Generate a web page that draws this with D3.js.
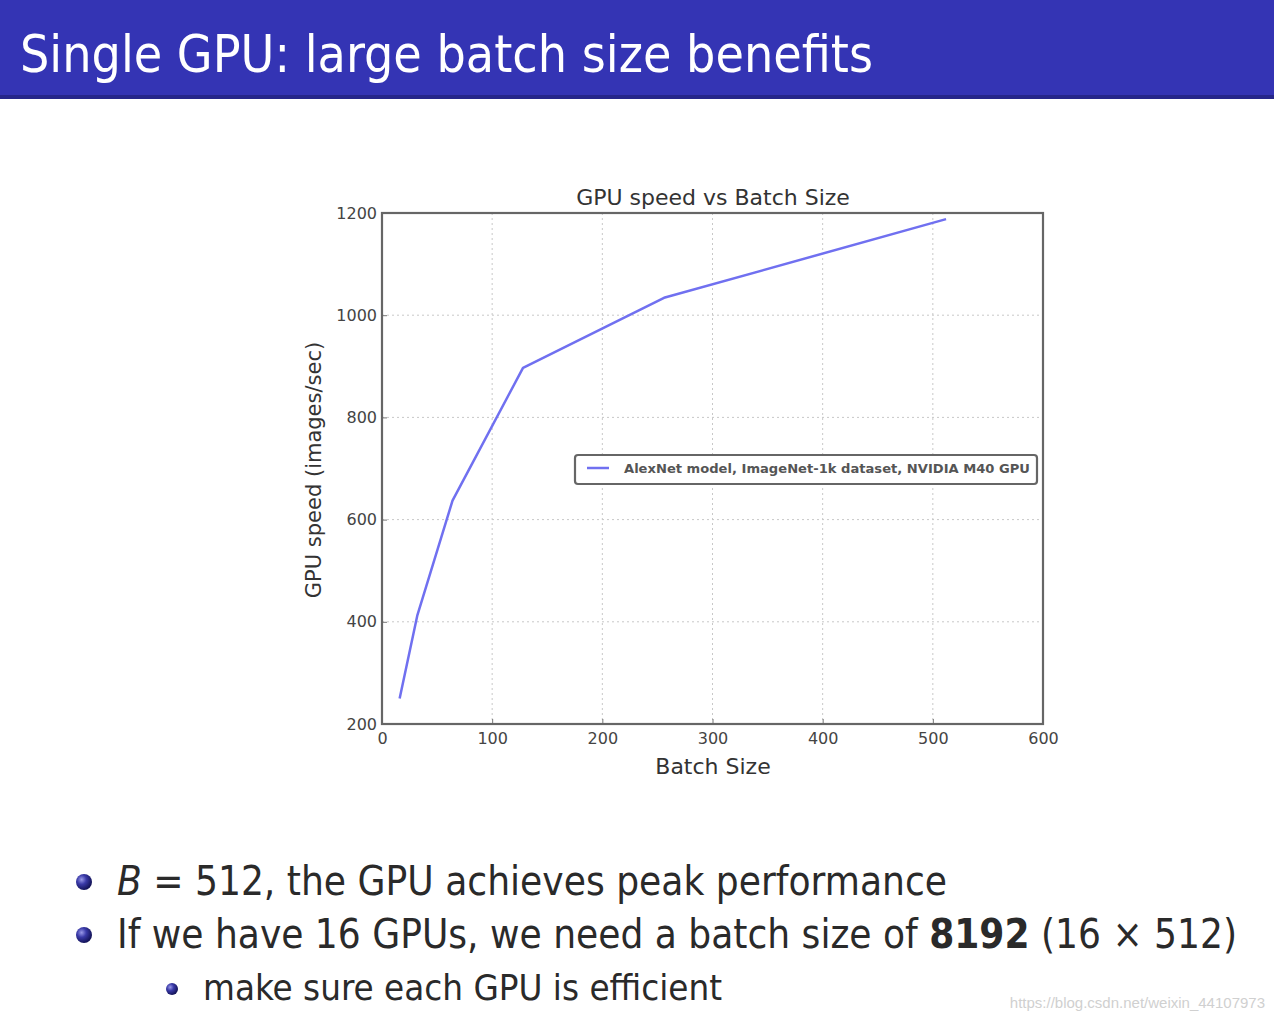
<!DOCTYPE html>
<html><head><meta charset="utf-8">
<script src="https://cdn.jsdelivr.net/npm/d3@7"></script>
<style>
html,body{margin:0;padding:0;background:#fff;}
svg{display:block;}
</style></head>
<body>
<svg id="c" width="1274" height="1021"></svg>
<script>
const batchSizes = [16, 32, 64, 128, 256, 512];
const speeds = [250, 412, 637, 897, 1034, 1188];
const xTicks = [0, 100, 200, 300, 400, 500, 600];
const yTicks = [200, 400, 600, 800, 1000, 1200];
const seriesName = "AlexNet model, ImageNet-1k dataset, NVIDIA M40 GPU";
const slideTitle = "Single GPU: large batch size benefits";
const chartTitle = "GPU speed vs Batch Size";

const svg = d3.select("#c");
const defs = svg.append("defs");
const g1 = defs.append("radialGradient").attr("id","ball").attr("cx","35%").attr("cy","35%").attr("r","65%");
g1.append("stop").attr("offset","0%").attr("stop-color","#9a9ae8");
g1.append("stop").attr("offset","45%").attr("stop-color","#3a3aa8");
g1.append("stop").attr("offset","100%").attr("stop-color","#14145a");

// header bar
svg.append("rect").attr("x",0).attr("y",0).attr("width",1274).attr("height",97).attr("fill","#3434b4");
svg.append("rect").attr("x",0).attr("y",95).attr("width",1274).attr("height",4).attr("fill","#26268a");
svg.append("text").attr("x",20).attr("y",72).attr("fill","#fff")
  .style("font-family","'DejaVu Sans Condensed','DejaVu Sans',sans-serif").style("font-size","52px")
  .attr("textLength",853).attr("lengthAdjust","spacingAndGlyphs")
  .text(slideTitle);

// chart
const L=382, R=1043, T=213, B=724;
const x = d3.scaleLinear().domain([0,600]).range([L,R]);
const y = d3.scaleLinear().domain([200,1200]).range([B,T]);
const font = "'DejaVu Sans',sans-serif";

const grid = svg.append("g");
grid.selectAll(".vx").data(xTicks.slice(1,-1)).join("line")
  .attr("x1",d=>x(d)).attr("x2",d=>x(d)).attr("y1",T).attr("y2",B)
  .attr("stroke","#c8c8c8").attr("stroke-width",1).attr("stroke-dasharray","2,3");
grid.selectAll(".hy").data(yTicks.slice(1,-1)).join("line")
  .attr("y1",d=>y(d)).attr("y2",d=>y(d)).attr("x1",L).attr("x2",R)
  .attr("stroke","#c8c8c8").attr("stroke-width",1).attr("stroke-dasharray","2,3");

const xAxis = svg.append("g").attr("transform",`translate(0,${B})`)
  .call(d3.axisBottom(x).tickValues(xTicks).tickFormat(d3.format("d")).tickSize(-5).tickPadding(10));
const yAxis = svg.append("g").attr("transform",`translate(${L},0)`)
  .call(d3.axisLeft(y).tickValues(yTicks).tickFormat(d3.format("d")).tickSize(-5).tickPadding(5));
[xAxis,yAxis].forEach(a=>{
  a.select(".domain").remove();
  a.selectAll(".tick line").attr("stroke","#777");
  a.selectAll("text").style("font-family",font).style("font-size","16px").attr("fill","#444");
});
yAxis.selectAll("text").attr("dy","0.32em");
xAxis.selectAll("text").attr("dy","0.6em");

svg.append("rect").attr("x",L).attr("y",T).attr("width",R-L).attr("height",B-T)
  .attr("fill","none").attr("stroke","#666").attr("stroke-width",2.2);

const line = d3.line().x((d,i)=>x(batchSizes[i])).y(d=>y(d));
svg.append("path").datum(speeds).attr("d",line).attr("fill","none")
  .attr("stroke","#7070f0").attr("stroke-width",2.5).attr("stroke-linejoin","round");

svg.append("text").attr("x",713).attr("y",205).attr("text-anchor","middle")
  .style("font-family",font).style("font-size","22px").attr("fill","#333").text(chartTitle);
svg.append("text").attr("x",713).attr("y",774).attr("text-anchor","middle")
  .style("font-family",font).style("font-size","22px").attr("fill","#333").text("Batch Size");
svg.append("text").attr("transform","translate(321,470) rotate(-90)").attr("text-anchor","middle")
  .style("font-family",font).style("font-size","21px").attr("fill","#333").text("GPU speed (images/sec)");

// legend
const lg = svg.append("g");
lg.append("rect").attr("x",575).attr("y",455).attr("width",462).attr("height",29).attr("rx",3)
  .attr("fill","#fff").attr("stroke","#666").attr("stroke-width",2.2);
lg.append("line").attr("x1",587).attr("x2",609).attr("y1",468).attr("y2",468)
  .attr("stroke","#7070f0").attr("stroke-width",2.5);
lg.append("text").attr("x",624).attr("y",473).style("font-family",font).style("font-size","13px")
  .style("font-weight","bold").attr("fill","#555").attr("textLength",406).attr("lengthAdjust","spacingAndGlyphs")
  .text(seriesName);

// bullets
const tf = "'DejaVu Sans Condensed','DejaVu Sans',sans-serif";
svg.append("circle").attr("cx",84).attr("cy",882).attr("r",8).attr("fill","url(#ball)");
svg.append("circle").attr("cx",84).attr("cy",935).attr("r",8).attr("fill","url(#ball)");
svg.append("circle").attr("cx",172).attr("cy",989).attr("r",6).attr("fill","url(#ball)");

const t1 = svg.append("text").attr("x",117).attr("y",895).style("font-family",tf).style("font-size","40px").attr("fill","#2a2a2a")
  .attr("textLength",830).attr("lengthAdjust","spacingAndGlyphs");
t1.append("tspan").style("font-style","italic").text("B");
t1.append("tspan").text(" = 512, the GPU achieves peak performance");
const t2 = svg.append("text").attr("x",117).attr("y",948).style("font-family",tf).style("font-size","40px").attr("fill","#2a2a2a")
  .attr("textLength",1120).attr("lengthAdjust","spacingAndGlyphs");
t2.append("tspan").text("If we have 16 GPUs, we need a batch size of ");
t2.append("tspan").style("font-weight","bold").text("8192");
t2.append("tspan").text(" (16 × 512)");
svg.append("text").attr("x",203).attr("y",1000).style("font-family",tf).style("font-size","36px").attr("fill","#2a2a2a")
  .attr("textLength",519).attr("lengthAdjust","spacingAndGlyphs").text("make sure each GPU is efficient");

svg.append("text").attr("x",1265).attr("y",1008).attr("text-anchor","end").style("font-family","'Liberation Sans Narrow','Liberation Sans',sans-serif")
  .style("font-size","15px").attr("fill","#d0d0d0").text("https://blog.csdn.net/weixin_44107973");
</script>
</body></html>
